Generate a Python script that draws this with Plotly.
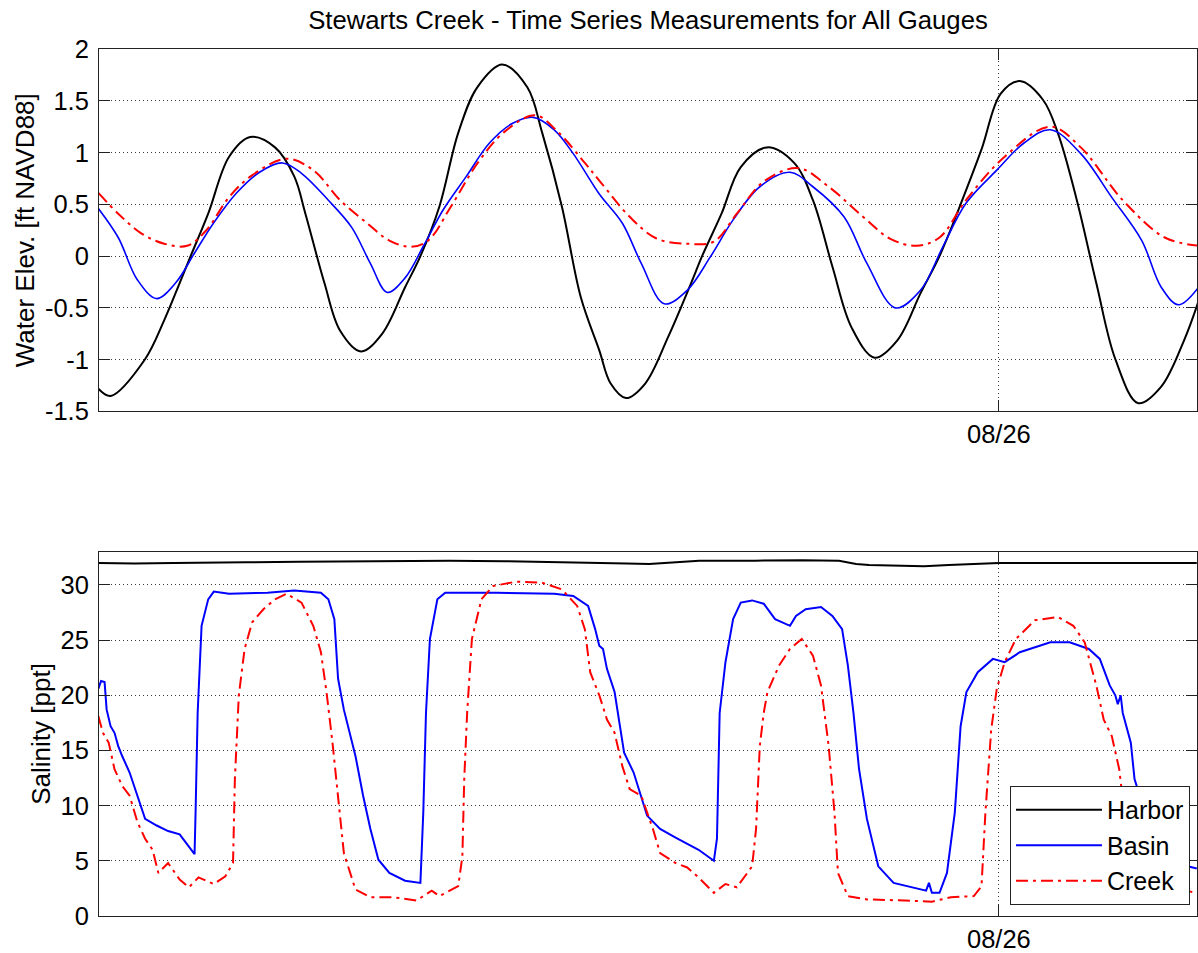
import datetime as dt
import plotly.graph_objects as go

# ---------------- data (hours after 08/24 00:00) ----------------
BASE = dt.datetime(2013, 8, 24)

elev_harbor_t = [4.46, 5.05, 6.70, 7.64, 8.39, 8.92, 9.77, 10.78, 11.80, 13.00, 13.93, 14.47, 15.39,
                 16.15, 17.16, 18.18, 19.29, 20.03, 20.95, 21.86, 22.78, 23.99, 25.20, 25.92, 26.87,
                 27.79, 28.68, 29.23, 29.97, 30.90, 32.01, 33.12, 33.65, 34.59, 35.52, 36.79, 38.10,
                 39.01, 39.95, 40.88, 41.99, 43.10, 44.21, 45.13, 46.05, 47.16, 48.09, 49.01, 50.13,
                 50.85, 51.77, 52.71, 53.64, 54.74, 55.85, 56.96, 57.66]
elev_harbor = [-1.28, -1.35, -1.00, -0.62, -0.26, 0.00, 0.41, 0.96, 1.15, 1.05, 0.77, 0.41, -0.26,
               -0.72, -0.92, -0.75, -0.30, 0.00, 0.48, 1.19, 1.63, 1.85, 1.63, 1.19, 0.48,
               -0.40, -0.91, -1.23, -1.37, -1.23, -0.78, -0.26, 0.00, 0.41, 0.86, 1.05, 0.90,
               0.54, -0.10, -0.69, -0.98, -0.81, -0.36, 0.00, 0.45, 1.03, 1.57, 1.69, 1.51,
               1.19, 0.54, -0.26, -1.00, -1.42, -1.26, -0.81, -0.43]

elev_basin_t = [4.46, 5.42, 6.35, 7.28, 8.19, 9.11, 10.03, 11.14, 12.25, 13.36, 14.28, 15.58, 16.70,
                17.61, 18.43, 19.29, 20.21, 21.14, 22.25, 23.36, 24.47, 25.49, 26.50, 27.42, 28.68,
                29.79, 30.71, 31.82, 32.93, 34.04, 35.15, 36.44, 37.90, 39.01, 40.51, 41.62, 43.00,
                44.21, 45.29, 46.41, 47.90, 49.20, 50.49, 51.96, 53.45, 54.91, 55.85, 56.69, 57.66]
elev_basin = [0.46, 0.18, -0.23, -0.41, -0.26, 0.03, 0.32, 0.61, 0.81, 0.90, 0.80, 0.54, 0.28,
              -0.07, -0.35, -0.21, 0.11, 0.45, 0.77, 1.09, 1.28, 1.34, 1.22, 0.99, 0.60,
              0.32, -0.07, -0.46, -0.33, -0.01, 0.35, 0.67, 0.81, 0.67, 0.38, -0.07, -0.50,
              -0.33, 0.09, 0.51, 0.83, 1.09, 1.22, 0.99, 0.57, 0.15, -0.30, -0.47, -0.30]

elev_creek_t = [4.46, 5.42, 6.53, 7.64, 8.75, 9.68, 10.78, 11.89, 13.56, 14.85, 16.15, 17.44, 18.53,
                19.57, 20.40, 21.51, 22.80, 24.09, 25.58, 26.68, 27.98, 28.68, 30.15, 31.45, 32.93,
                34.22, 35.33, 36.63, 38.29, 39.77, 41.43, 42.73, 44.02, 45.13, 46.41, 48.28, 50.49,
                51.96, 53.99, 56.02, 57.66]
elev_creek = [0.61, 0.41, 0.22, 0.12, 0.10, 0.25, 0.57, 0.78, 0.94, 0.83, 0.54, 0.32, 0.15,
              0.09, 0.15, 0.48, 0.90, 1.20, 1.36, 1.20, 0.90, 0.73, 0.38, 0.17, 0.12,
              0.14, 0.41, 0.72, 0.85, 0.67, 0.38, 0.17, 0.10, 0.18, 0.54, 0.96, 1.25,
              1.05, 0.54, 0.18, 0.10]

sal_harbor_t = [4.46, 6.20, 8.10, 9.35, 11.60, 14.18, 16.90, 19.40, 21.43, 24.10, 26.30, 28.68,
                30.00, 31.09, 32.40, 33.51, 36.20, 38.50, 40.27, 41.10, 41.72, 43.10, 44.38,
                45.58, 47.00, 48.00, 50.40, 52.83, 55.20, 57.57]
sal_harbor = [32.0, 31.95, 32.0, 32.0, 32.05, 32.1, 32.15, 32.2, 32.2, 32.15, 32.1, 32.0,
              31.95, 31.9, 32.05, 32.2, 32.2, 32.25, 32.2, 31.9, 31.8, 31.75, 31.7,
              31.8, 31.9, 32.0, 32.0, 32.0, 32.05, 32.0]

sal_basin_t = [4.46, 4.59, 4.76, 4.86, 5.05, 5.24, 5.42, 5.61, 5.97, 6.35, 6.72, 7.28, 7.83, 8.39,
               8.75, 9.11, 9.16, 9.26, 9.45, 9.77, 10.04, 10.78, 12.64, 13.93, 15.22, 15.58, 15.87,
               16.05, 16.33, 16.50, 16.89, 17.26, 17.61, 18.00, 18.53, 19.29, 20.03, 20.17, 20.30,
               20.49, 20.85, 21.23, 23.72, 26.50, 27.42, 28.14, 28.48, 28.68, 28.86, 29.05, 29.42,
               29.88, 30.34, 30.99, 31.62, 32.37, 33.48, 34.22, 34.37, 34.50, 34.78, 35.15, 35.52,
               36.07, 36.63, 37.18, 37.90, 38.19, 38.66, 39.40, 39.95, 40.42, 40.70, 40.97, 41.24,
               41.62, 42.17, 42.91, 43.84, 44.48, 44.62, 44.76, 45.13, 45.49, 45.87, 46.15, 46.43,
               46.98, 47.71, 48.28, 49.01, 50.49, 51.42, 52.35, 52.88, 53.36, 53.63, 53.75, 53.89,
               53.99, 54.38, 54.56, 54.91, 55.49, 56.21, 56.94, 57.57]
sal_basin = [20.6, 21.3, 21.2, 18.7, 17.2, 16.6, 15.4, 14.5, 13.0, 10.9, 8.8, 8.2, 7.7, 7.4,
             6.5, 5.6, 9.4, 18.4, 26.3, 28.7, 29.4, 29.2, 29.3, 29.5, 29.3, 28.7, 26.9,
             21.5, 18.7, 17.5, 14.5, 10.9, 7.9, 5.1, 3.9, 3.2, 3.0, 9.4, 18.4,
             25.1, 28.7, 29.3, 29.3, 29.2, 29.0, 28.1, 26.0, 24.5, 24.2, 22.4, 20.3,
             14.8, 13.0, 9.1, 7.9, 7.1, 6.0, 5.0, 7.0, 18.4, 23.0, 26.9, 28.4,
             28.6, 28.3, 26.9, 26.3, 27.2, 27.8, 28.0, 27.2, 26.0, 22.7, 18.4, 13.3,
             8.8, 4.5, 3.0, 2.6, 2.3, 3.0, 2.1, 2.1, 3.9, 9.4, 17.2, 20.3,
             22.1, 23.3, 23.0, 23.9, 24.8, 24.8, 24.2, 23.3, 20.9, 20.0, 19.2, 20.0,
             18.4, 15.7, 12.4, 10.3, 7.5, 5.5, 4.6, 4.3]

sal_creek_t = [4.46, 4.68, 4.96, 5.24, 5.61, 5.97, 6.35, 6.72, 7.08, 7.36, 7.83, 8.39, 8.84, 9.30,
               10.04, 10.60, 10.97, 11.06, 11.25, 11.53, 11.89, 12.44, 13.00, 13.56, 14.28, 14.85,
               15.22, 15.49, 15.78, 16.05, 16.33, 16.89, 17.61, 18.72, 19.84, 20.58, 20.95, 21.86,
               22.06, 22.15, 22.29, 22.52, 22.98, 23.54, 24.65, 25.92, 26.87, 27.61, 27.98, 28.24,
               28.68, 29.05, 29.42, 29.79, 30.15, 30.71, 31.27, 31.62, 32.37, 32.93, 33.48, 34.22,
               34.78, 35.33, 36.07, 36.26, 36.44, 36.63, 36.81, 37.37, 37.90, 38.47, 39.01, 39.40,
               39.77, 40.05, 40.22, 40.70, 41.62, 43.46, 44.76, 45.68, 46.79, 47.16, 47.35, 47.63,
               47.90, 48.28, 48.82, 49.74, 50.85, 51.60, 52.15, 52.71, 53.07, 53.46, 53.82, 53.99,
               54.52, 55.25, 56.21, 57.57]
sal_creek = [18.1, 16.6, 15.7, 13.3, 11.8, 10.9, 8.5, 7.0, 6.0, 3.9, 4.8, 3.3, 2.6, 3.5,
             2.9, 3.6, 4.8, 12.4, 20.0, 24.2, 26.6, 27.8, 28.7, 29.2, 28.4, 26.3,
             23.9, 20.3, 15.7, 10.9, 5.7, 2.4, 1.7, 1.7, 1.4, 2.3, 1.8, 2.7,
             5.4, 12.4, 18.4, 25.1, 28.7, 29.9, 30.3, 30.2, 29.6, 28.1, 26.0, 22.1,
             20.0, 17.8, 16.6, 13.6, 11.5, 10.9, 7.9, 5.7, 4.8, 4.4, 3.5, 2.1,
             2.9, 2.6, 4.5, 7.9, 15.4, 18.4, 20.3, 22.7, 24.2, 25.1, 23.6, 20.9,
             15.4, 9.4, 3.9, 1.8, 1.5, 1.4, 1.3, 1.7, 1.8, 2.7, 9.4, 16.9,
             20.6, 23.0, 25.1, 26.8, 27.1, 26.3, 24.8, 20.9, 17.8, 16.3, 13.3, 10.6,
             6.0, 3.5, 2.6, 2.1]

series_names = ["Harbor", "Basin", "Creek"]
elev_ticks = [-1.5, -1, -0.5, 0, 0.5, 1, 1.5, 2]
elev_ticktext = ["-1.5", "-1", "-0.5", "0", "0.5", "1", "1.5", "2"]
sal_ticks = [0, 5, 10, 15, 20, 25, 30]
date_tick = [dt.datetime(2013, 8, 26)]
date_ticktext = ["08/26"]
x_range_hours = [4.49, 57.58]


def to_dt(hours):
    return [BASE + dt.timedelta(hours=h) for h in hours]


FONT = "Liberation Sans, Arial, sans-serif"
CREEK_DASH = "12px,5px,3px,5px"
TICK_SIZE = 25.5

fig = go.Figure()

fig.add_trace(go.Scatter(x=to_dt(elev_harbor_t), y=elev_harbor, mode="lines", name=series_names[0],
                         line=dict(color="black", width=2, shape="spline", smoothing=1.0),
                         showlegend=False, xaxis="x", yaxis="y"))
fig.add_trace(go.Scatter(x=to_dt(elev_basin_t), y=elev_basin, mode="lines", name=series_names[1],
                         line=dict(color="#0000ff", width=1.6, shape="spline", smoothing=1.0),
                         showlegend=False, xaxis="x", yaxis="y"))
fig.add_trace(go.Scatter(x=to_dt(elev_creek_t), y=elev_creek, mode="lines", name=series_names[2],
                         line=dict(color="#ff0000", width=2, dash=CREEK_DASH, shape="spline", smoothing=1.0),
                         showlegend=False, xaxis="x", yaxis="y"))

fig.add_trace(go.Scatter(x=to_dt(sal_harbor_t), y=sal_harbor, mode="lines", name=series_names[0],
                         line=dict(color="black", width=2),
                         xaxis="x2", yaxis="y2"))
fig.add_trace(go.Scatter(x=to_dt(sal_basin_t), y=sal_basin, mode="lines", name=series_names[1],
                         line=dict(color="#0000ff", width=2),
                         xaxis="x2", yaxis="y2"))
fig.add_trace(go.Scatter(x=to_dt(sal_creek_t), y=sal_creek, mode="lines", name=series_names[2],
                         line=dict(color="#ff0000", width=2, dash=CREEK_DASH),
                         xaxis="x2", yaxis="y2"))

xr = to_dt(x_range_hours)
GRID = dict(showgrid=True, gridcolor="#3a3a3a", griddash="1px,3px", gridwidth=1)
common_x = dict(type="date", range=xr, tickvals=date_tick, ticktext=date_ticktext,
                ticks="inside", ticklen=11, tickcolor="#222", showline=True, linecolor="#222",
                linewidth=1, mirror="ticks", zeroline=False,
                tickfont=dict(family=FONT, size=TICK_SIZE, color="black"), **GRID)
common_y = dict(ticks="inside", ticklen=11, tickcolor="#222", showline=True, linecolor="#222",
                linewidth=1, mirror="ticks", zeroline=False,
                tickfont=dict(family=FONT, size=TICK_SIZE, color="black"),
                ticklabelstandoff=4, **GRID)

fig.update_layout(
    width=1198, height=953,
    margin=dict(l=99, r=0, t=49, b=35),
    paper_bgcolor="white", plot_bgcolor="white",
    font=dict(family=FONT, size=TICK_SIZE, color="black"),
    title=dict(text="Stewarts Creek - Time Series Measurements for All Gauges",
               x=0.5, xref="paper", xanchor="center", y=1 - 20 / 953, yref="container",
               yanchor="middle", font=dict(family=FONT, size=25.7, color="black")),
    xaxis=dict(domain=[0, 1], anchor="y", **common_x),
    yaxis=dict(domain=[0.5819, 1], anchor="x", range=[-1.5, 2], tickvals=elev_ticks,
               ticktext=elev_ticktext,
               title=dict(text="Water Elev. [ft NAVD88]", standoff=2,
                          font=dict(family=FONT, size=26, color="black")), **common_y),
    xaxis2=dict(domain=[0, 1], anchor="y2", **common_x),
    yaxis2=dict(domain=[0, 0.42], anchor="x2", range=[0, 33], tickvals=sal_ticks,
                title=dict(text="Salinity [ppt]", standoff=2,
                           font=dict(family=FONT, size=26, color="black")), **common_y),
    legend=dict(x=0.9936, y=0.0127, xanchor="right", yanchor="bottom", xref="paper", yref="paper",
                bgcolor="white", bordercolor="#222", borderwidth=1,
                font=dict(family=FONT, size=25, color="black"), itemwidth=86,
                tracegroupgap=0),
    showlegend=True,
)

fig.write_html("out.html")
